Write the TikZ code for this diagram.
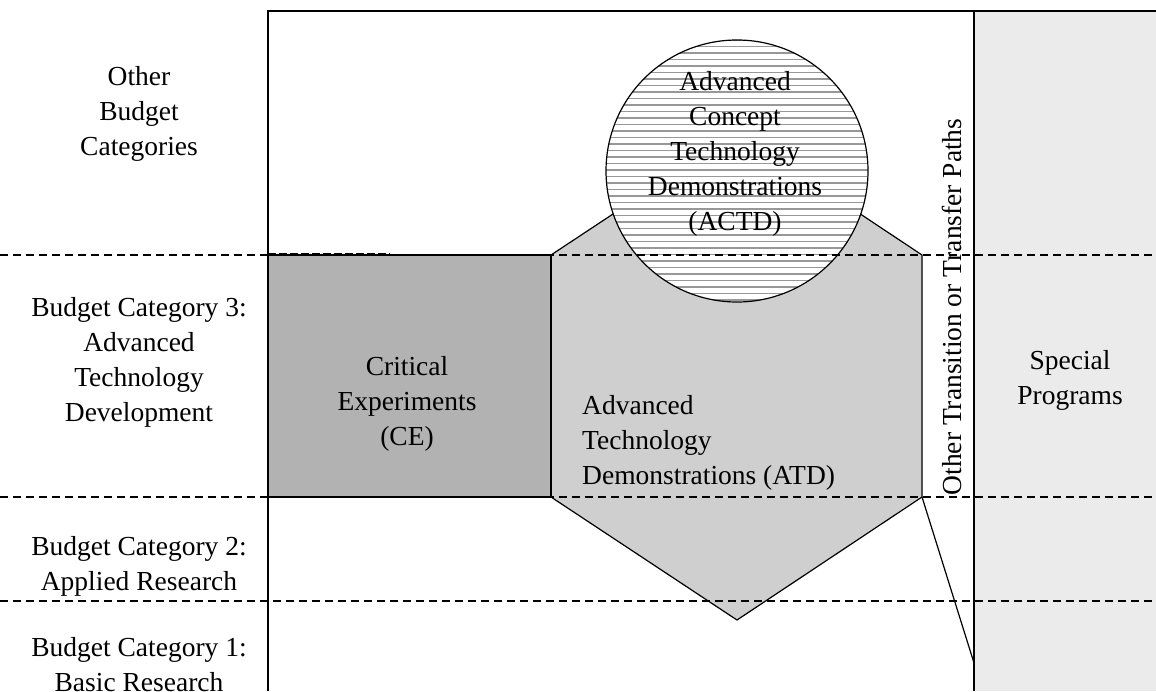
\documentclass[tikz,border=0pt]{standalone}
\usepackage{fontspec}
\setmainfont{Liberation Serif}
\begin{document}
\begin{tikzpicture}[x=1pt,y=-1pt,
  lbl/.style={font=\fontsize{27.5}{35}\selectfont, align=center, inner sep=0pt},
  frameline/.style={line width=1.6pt, draw=black},
  band/.style={line width=1.4pt, dash pattern=on 8pt off 5pt},
  edge/.style={line width=1.2pt, draw=black}]
\useasboundingbox (0,0) rectangle (1156,691);
\definecolor{cefill}{HTML}{B2B2B2}
\definecolor{hexfill}{HTML}{CFCFCF}
\definecolor{spfill}{HTML}{EBEBEB}
\definecolor{hatch}{HTML}{989898}

% key points
\coordinate (topL) at (268,11);
\coordinate (botL) at (268,691);
\coordinate (topR) at (974,11);
\coordinate (botR) at (974,691);
\coordinate (topE) at (1156,11);
\coordinate (exit) at (974,663);

% special programs column
\fill[spfill] (topR) rectangle (1156,691);

% advanced technology demonstrations hexagon
\coordinate (h1) at (551,255);
\coordinate (h2) at (551,497);
\coordinate (h3) at (737,620);
\coordinate (h4) at (922,497);
\coordinate (h5) at (922,255);
\coordinate (h6) at (737,132);
\filldraw[fill=hexfill, edge] (h1) -- (h2) -- (h3) -- (h4) -- (h5) -- (h6) -- cycle;

% ACTD circle with horizontal hatching
\coordinate (cc) at (737,171);
\fill[white] (cc) circle (131);
\begin{scope}
  \clip (cc) circle (131);
  \foreach \yy in {40,46.5,...,305} {
    \draw[hatch, line width=1.2pt] (600,\yy) -- (880,\yy);
  }
\end{scope}
\draw[edge] (cc) circle (131);

% critical experiments block
\filldraw[fill=cefill, edge] (268,255) rectangle (551,497);

% frame
\draw[frameline] (botL) -- (topL) -- (topE);
\draw[frameline] (topR) -- (botR);

% transfer path out of the hexagon
\draw[edge] (h4) -- (exit);

% budget category boundaries
\foreach \yy in {255,497,601} {
  \draw[band] (0,\yy) -- (1156,\yy);
}
\draw[line width=2.6pt, dash pattern=on 8pt off 3pt] (268,254) -- (390,254);

% labels
\node[lbl] (other) at (139,114) {Other\\Budget\\Categories};
\node[lbl] (bc3) at (139,362) {Budget Category 3:\\Advanced\\Technology\\Development};
\node[lbl] (bc2) at (139,566) {Budget Category 2:\\Applied Research};
\node[lbl] (bc1) at (139,665) {Budget Category 1:\\Basic Research};
\node[lbl] (ce) at (407,404) {Critical\\Experiments\\(CE)};
\node[lbl, align=left, anchor=west] (atd) at (582,443) {Advanced\\Technology\\Demonstrations (ATD)};
\node[lbl] (actd) at (735,154) {Advanced\\Concept\\Technology\\Demonstrations\\(ACTD)};
\node[lbl] (sp) at (1070,380) {Special\\Programs};
\node[lbl, rotate=90] (paths) at (952,307) {Other Transition or Transfer Paths};
\end{tikzpicture}
\end{document}
